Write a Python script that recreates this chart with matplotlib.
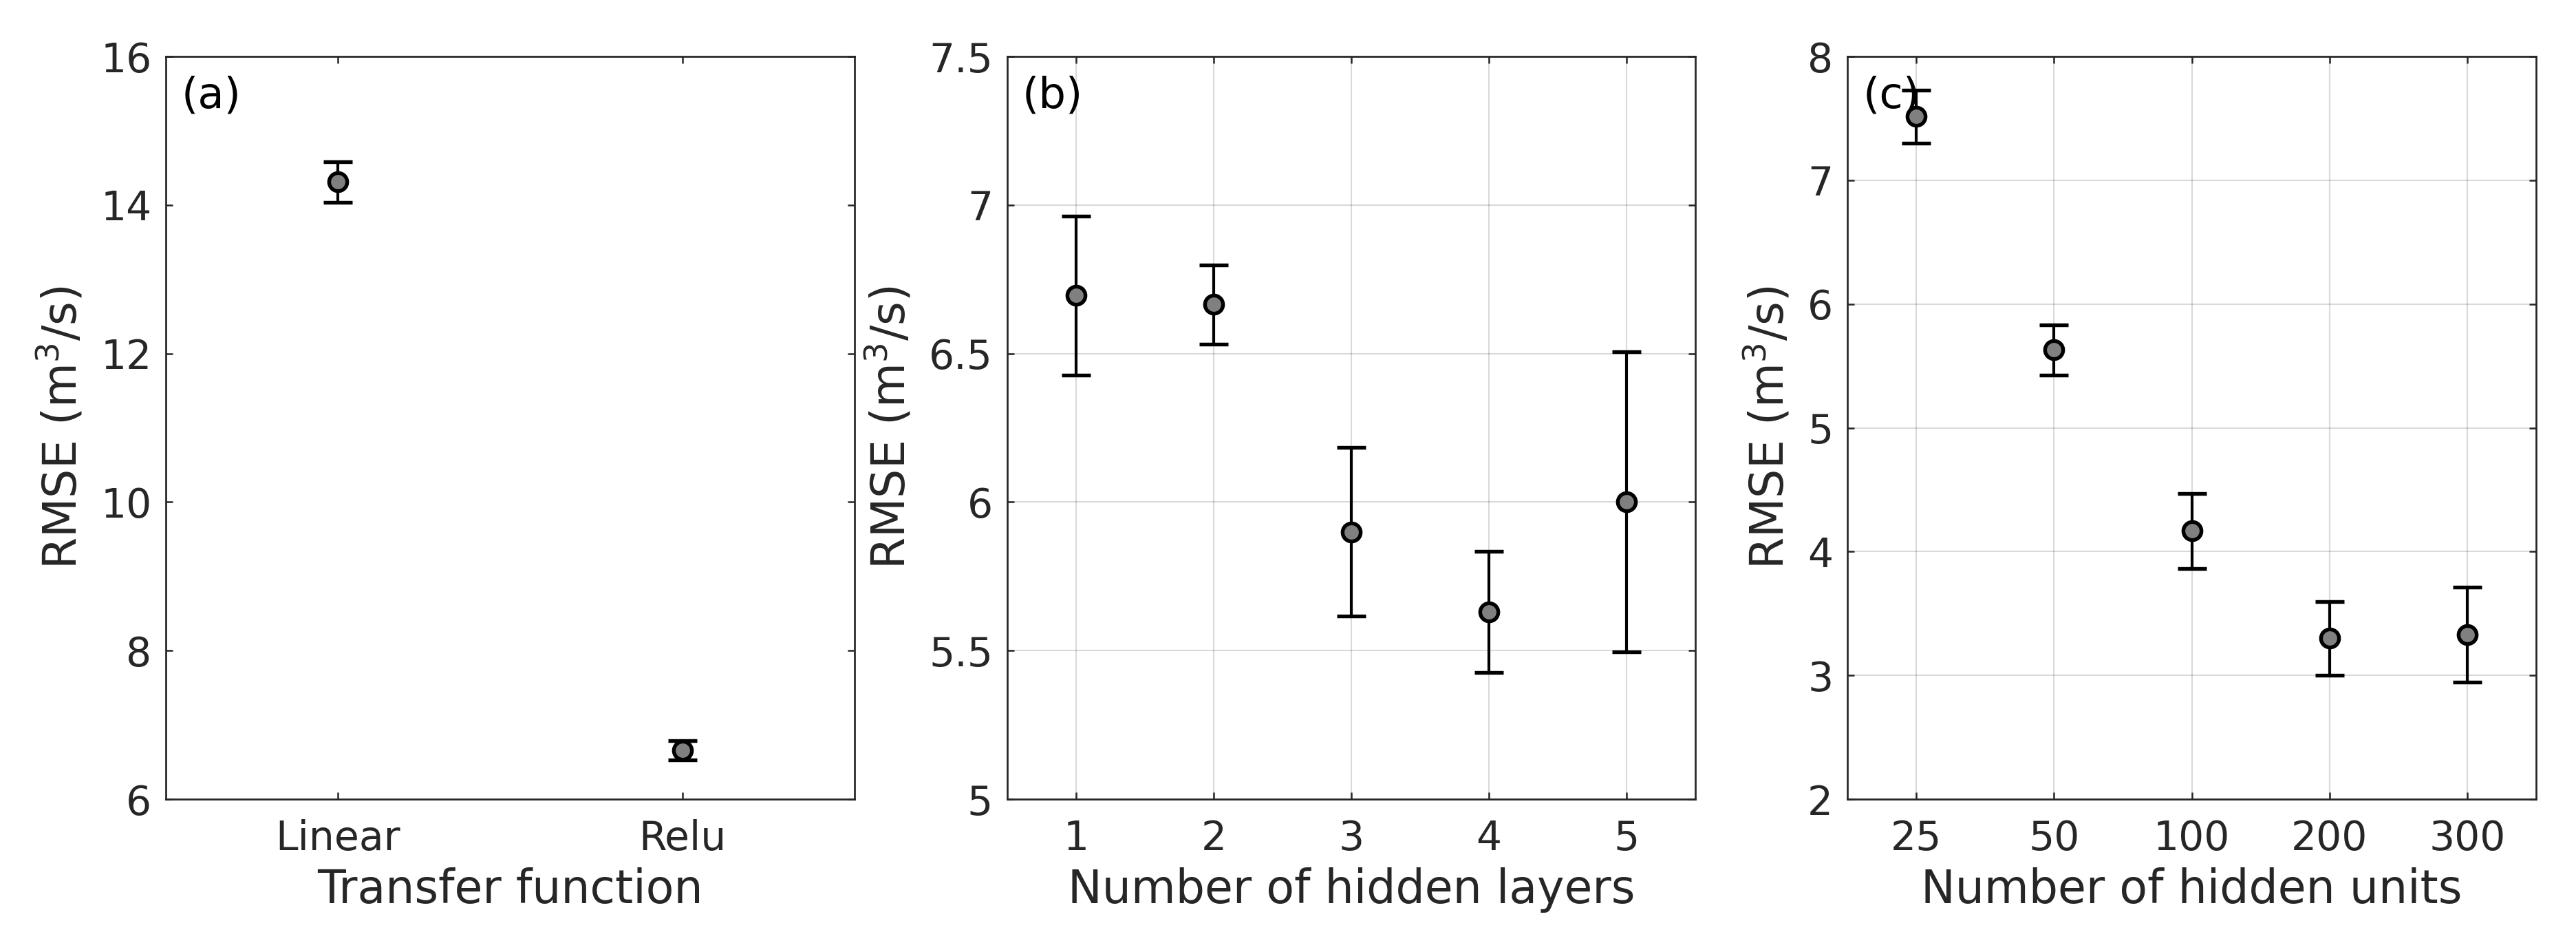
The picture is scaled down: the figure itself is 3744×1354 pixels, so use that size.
import matplotlib
matplotlib.use('Agg')
import matplotlib.pyplot as plt

# (a) transfer function
tf_labels = ['Linear', 'Relu']
tf_rmse = [14.31, 6.66]
tf_err = [0.27, 0.13]

# (b) number of hidden layers
layer_labels = ['1', '2', '3', '4', '5']
layer_rmse = [6.695, 6.665, 5.90, 5.63, 6.00]
layer_err = [0.268, 0.134, 0.283, 0.204, 0.505]

# (c) number of hidden units
unit_labels = ['25', '50', '100', '200', '300']
unit_rmse = [7.515, 5.63, 4.168, 3.30, 3.33]
unit_err = [0.214, 0.202, 0.303, 0.296, 0.382]

txt = '#262626'
plt.rcParams['font.family'] = 'DejaVu Sans'
plt.rcParams['mathtext.fontset'] = 'dejavusans'
plt.rcParams['text.color'] = txt
plt.rcParams['axes.labelcolor'] = txt
plt.rcParams['xtick.color'] = txt
plt.rcParams['ytick.color'] = txt

fig = plt.figure(figsize=(3745 / 300, 1354 / 300), dpi=300)
bottom, height = 0.1425, 0.7969
boxes = [
    [0.0644, bottom, 0.2673, height],
    [0.3909, bottom, 0.2670, height],
    [0.7170, bottom, 0.2673, height],
]

panels = [
    (tf_labels, tf_rmse, tf_err, 'Transfer function', (6, 16), [6, 8, 10, 12, 14, 16], False, '(a)'),
    (layer_labels, layer_rmse, layer_err, 'Number of hidden layers', (5, 7.5),
     [5, 5.5, 6, 6.5, 7, 7.5], True, '(b)'),
    (unit_labels, unit_rmse, unit_err, 'Number of hidden units', (2, 8),
     [2, 3, 4, 5, 6, 7, 8], True, '(c)'),
]

for box, (labels, vals, errs, xlab, ylim, yticks, grid, tag) in zip(boxes, panels):
    ax = fig.add_axes(box)
    x = list(range(1, len(labels) + 1))
    ax.errorbar(x, vals, yerr=errs, fmt='o', color='black', ecolor='black',
                elinewidth=1.0, capsize=5, capthick=1.0,
                markerfacecolor='#808080', markeredgecolor='black',
                markeredgewidth=1.3, markersize=6.3, zorder=3)
    ax.set_xlim(0.5, len(labels) + 0.5)
    ax.set_ylim(*ylim)
    ax.set_xticks(x)
    ax.set_xticklabels(labels)
    ax.set_yticks(yticks)
    ax.set_yticklabels([('%g' % t) for t in yticks])
    ax.tick_params(direction='in', length=2.4, width=0.6, top=True, right=True,
                   labelsize=14)
    ax.tick_params(axis='y', pad=5)
    ax.tick_params(axis='x', pad=7)
    for s in ax.spines.values():
        s.set_color(txt)
        s.set_linewidth(0.65)
    if grid:
        ax.grid(True, color='#000000', alpha=0.15, linewidth=0.5)
        ax.set_axisbelow(True)
    ax.set_xlabel(xlab, fontsize=16, labelpad=3)
    ax.set_ylabel('RMSE (m$^3$/s)', fontsize=16, labelpad=5)
    ax.text(0.022, 0.975, tag, transform=ax.transAxes, ha='left', va='top',
            fontsize=15, color='black', zorder=2)

fig.savefig('out.png', dpi=300)
